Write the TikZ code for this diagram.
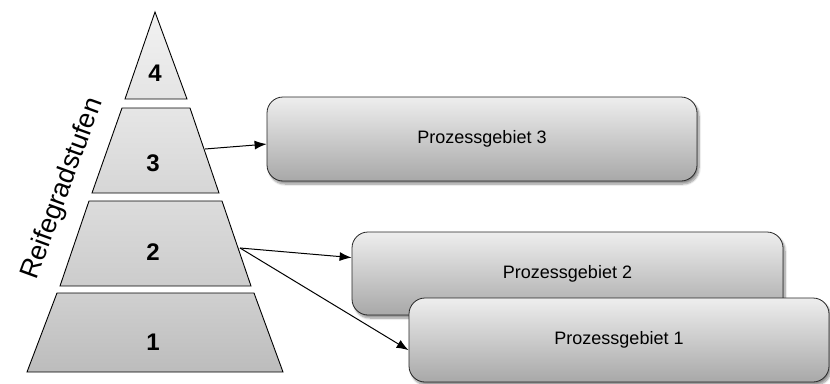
\documentclass[tikz,border=0pt]{standalone}
\usepackage{fontspec}
\setmainfont{Liberation Sans}
\usepackage{xcolor}
\definecolor{lvlfourtop}{RGB}{242,242,242}
\definecolor{lvlfourbot}{RGB}{228,228,228}
\definecolor{lvlthreetop}{RGB}{230,230,230}
\definecolor{lvlthreebot}{RGB}{214,214,214}
\definecolor{lvltwotop}{RGB}{220,220,220}
\definecolor{lvltwobot}{RGB}{204,204,204}
\definecolor{lvlonetop}{RGB}{208,208,208}
\definecolor{lvlonebot}{RGB}{188,188,188}
\definecolor{areatop}{RGB}{238,238,238}
\definecolor{areabot}{RGB}{168,168,168}
\usetikzlibrary{arrows.meta,calc,shadows.blur}

\begin{document}
\begin{tikzpicture}[
  x=1pt, y=-1pt,
  level/.style n args={2}{draw=black, line width=0.9pt, top color=#1, bottom color=#2},
  num/.style={font=\fontsize{24}{26}\selectfont\bfseries, inner sep=0pt},
  area/.style={draw=black!85, line width=0.8pt, rounded corners=16pt, top color=areatop, bottom color=areabot,
    font=\fontsize{18}{20}\selectfont, minimum width=430pt, minimum height=84pt,
    blur shadow={shadow xshift=2pt, shadow yshift=-3pt, shadow blur steps=8, shadow opacity=45}},
  arrow/.style={-{Latex[length=12pt, width=9pt]}, line width=1pt, color=black}
]
\useasboundingbox (0,0) rectangle (830,383);

% pyramid levels
\draw[level={lvlfourtop}{lvlfourbot}] (155,12) -- (187,99) -- (125,99) -- cycle;
\draw[level={lvlthreetop}{lvlthreebot}] (122,108) -- (190,108) -- (219,193) -- (92,193) -- cycle;
\draw[level={lvltwotop}{lvltwobot}] (89,201) -- (222,201) -- (251,286) -- (60,286) -- cycle;
\draw[level={lvlonetop}{lvlonebot}] (57,293) -- (254,293) -- (283,372) -- (27,372) -- cycle;

\node[num] (n4) at (155,73) {4};
\node[num] (n3) at (153,163) {3};
\node[num] (n2) at (153,252) {2};
\node[num] (n1) at (153,342) {1};

\coordinate (s3) at (205,149);
\coordinate (s2) at (240,248);

\node[rotate=70, font=\fontsize{27}{29}\selectfont] (stufen) at (63,189) {Reifegradstufen};

% process areas
\node[area] (pg3) at (482,139) {Prozessgebiet 3};
\node[area, minimum width=431pt, minimum height=83pt] (pg2) at (567.5,273.5) {Prozessgebiet 2};
\node[area, minimum width=420pt] (pg1) at (619,340) {Prozessgebiet 1};

\draw[arrow] (s3) -- ($(pg3.north west)!0.56!(pg3.south west)$);
\draw[arrow] (s2) -- ($(pg2.north west)!0.31!(pg2.south west)$);
\draw[arrow] (s2) -- ($(pg1.north west)!0.62!(pg1.south west)$);
\end{tikzpicture}
\end{document}
